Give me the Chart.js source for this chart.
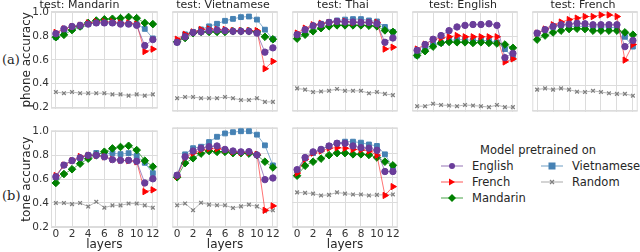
<!DOCTYPE html>
<html>
<head>
<meta charset="utf-8">
<script src="https://cdn.jsdelivr.net/npm/chart.js@4.4.1/dist/chart.umd.min.js"></script>
<style>
  html, body { margin: 0; padding: 0; background: #fff; overflow: hidden; }
  body { width: 640px; height: 252px; position: relative; font-family: "DejaVu Sans", sans-serif; color: #262626; }
  canvas { position: absolute; }
  .tag { position: absolute; left: 2px; font-family: "DejaVu Serif", "Liberation Serif", serif; font-size: 13px; line-height: 14px; }
  .leg { position: absolute; font-size: 11.5px; line-height: 14px; white-space: nowrap; }
  .leg svg { position: absolute; left: 0; top: 2px; }
  .leg span { position: absolute; left: 31px; top: 0; }
</style>
</head>
<body>
<div class="tag" style="top:53px">(a)</div>
<div class="tag" style="top:189px">(b)</div>
<div class="leg" style="left:480px; top:143px">Model pretrained on</div>
<div id="legend"></div>
<script>
// Data
const layers = [0, 1, 2, 3, 4, 5, 6, 7, 8, 9, 10, 11, 12];
const models = ['English', 'French', 'Mandarin', 'Vietnamese', 'Random'];
const xTicks = [0, 2, 4, 6, 8, 10, 12];
const yTicks = [0.2, 0.4, 0.6, 0.8, 1.0];

// phone accuracy, one row per model (same order as models)
const phoneMandarin = [
    [0.82, 0.86, 0.88, 0.89, 0.90, 0.91, 0.91, 0.91, 0.90, 0.90, 0.89, 0.72, 0.77],
    [0.83, 0.86, 0.88, 0.89, 0.91, 0.92, 0.92, 0.92, 0.91, 0.91, 0.90, 0.67, 0.69],
    [0.79, 0.81, 0.85, 0.88, 0.91, 0.93, 0.94, 0.945, 0.95, 0.96, 0.95, 0.91, 0.90],
    [0.79, 0.83, 0.86, 0.88, 0.90, 0.91, 0.91, 0.91, 0.91, 0.90, 0.90, 0.86, 0.78],
    [0.33, 0.32, 0.33, 0.32, 0.32, 0.32, 0.32, 0.31, 0.31, 0.30, 0.31, 0.30, 0.31]
];
const phoneVietnamese = [
    [0.755, 0.80, 0.835, 0.84, 0.85, 0.855, 0.85, 0.845, 0.845, 0.845, 0.83, 0.675, 0.71],
    [0.78, 0.82, 0.84, 0.86, 0.865, 0.86, 0.86, 0.85, 0.85, 0.85, 0.85, 0.54, 0.60],
    [0.76, 0.79, 0.83, 0.84, 0.84, 0.84, 0.84, 0.845, 0.845, 0.845, 0.84, 0.80, 0.78],
    [0.755, 0.82, 0.84, 0.86, 0.885, 0.906, 0.93, 0.946, 0.96, 0.965, 0.94, 0.858, 0.78],
    [0.30, 0.31, 0.31, 0.30, 0.30, 0.30, 0.31, 0.30, 0.285, 0.285, 0.30, 0.27, 0.27]
];
const phoneThai = [
    [0.817, 0.858, 0.89, 0.90, 0.917, 0.925, 0.92, 0.92, 0.917, 0.917, 0.906, 0.755, 0.79],
    [0.83, 0.87, 0.898, 0.91, 0.917, 0.925, 0.925, 0.917, 0.917, 0.917, 0.917, 0.70, 0.715],
    [0.785, 0.817, 0.845, 0.87, 0.885, 0.893, 0.893, 0.893, 0.893, 0.89, 0.885, 0.852, 0.84],
    [0.817, 0.85, 0.89, 0.906, 0.92, 0.933, 0.94, 0.944, 0.944, 0.933, 0.925, 0.88, 0.84],
    [0.38, 0.37, 0.35, 0.355, 0.36, 0.375, 0.36, 0.36, 0.36, 0.34, 0.35, 0.335, 0.325]
];
const phoneEnglish = [
    [0.69, 0.737, 0.78, 0.81, 0.85, 0.88, 0.893, 0.90, 0.90, 0.906, 0.893, 0.63, 0.665],
    [0.70, 0.74, 0.777, 0.79, 0.80, 0.81, 0.80, 0.80, 0.80, 0.80, 0.80, 0.595, 0.62],
    [0.648, 0.683, 0.72, 0.75, 0.758, 0.755, 0.755, 0.75, 0.755, 0.75, 0.745, 0.737, 0.71],
    [0.648, 0.70, 0.737, 0.75, 0.77, 0.777, 0.777, 0.77, 0.77, 0.768, 0.755, 0.70, 0.63],
    [0.235, 0.235, 0.255, 0.245, 0.24, 0.235, 0.245, 0.24, 0.235, 0.227, 0.245, 0.227, 0.227]
];
const phoneFrench = [
    [0.83, 0.858, 0.885, 0.898, 0.903, 0.91, 0.906, 0.898, 0.898, 0.898, 0.898, 0.72, 0.77],
    [0.83, 0.863, 0.898, 0.92, 0.94, 0.952, 0.965, 0.965, 0.978, 0.978, 0.965, 0.61, 0.737],
    [0.777, 0.81, 0.835, 0.85, 0.863, 0.866, 0.863, 0.85, 0.85, 0.85, 0.85, 0.836, 0.817],
    [0.825, 0.858, 0.88, 0.893, 0.885, 0.885, 0.885, 0.88, 0.88, 0.88, 0.87, 0.80, 0.72],
    [0.37, 0.38, 0.37, 0.38, 0.37, 0.353, 0.35, 0.36, 0.35, 0.34, 0.335, 0.335, 0.32]
];

// tone accuracy
const toneMandarin = [
    [0.62, 0.718, 0.755, 0.78, 0.80, 0.80, 0.787, 0.764, 0.758, 0.758, 0.75, 0.568, 0.603],
    [0.63, 0.718, 0.755, 0.79, 0.80, 0.80, 0.787, 0.766, 0.758, 0.755, 0.745, 0.495, 0.51],
    [0.568, 0.643, 0.683, 0.73, 0.772, 0.80, 0.83, 0.858, 0.87, 0.88, 0.844, 0.755, 0.705],
    [0.615, 0.718, 0.755, 0.775, 0.80, 0.82, 0.81, 0.818, 0.81, 0.818, 0.795, 0.737, 0.65],
    [0.40, 0.40, 0.39, 0.40, 0.37, 0.41, 0.36, 0.38, 0.38, 0.395, 0.395, 0.38, 0.36]
];
const toneVietnamese = [
    [0.62, 0.77, 0.817, 0.84, 0.852, 0.858, 0.83, 0.817, 0.81, 0.812, 0.785, 0.584, 0.597],
    [0.61, 0.764, 0.80, 0.826, 0.836, 0.836, 0.826, 0.81, 0.805, 0.805, 0.79, 0.334, 0.37],
    [0.603, 0.718, 0.758, 0.796, 0.817, 0.81, 0.81, 0.80, 0.80, 0.796, 0.783, 0.73, 0.683],
    [0.62, 0.79, 0.84, 0.852, 0.89, 0.933, 0.96, 0.97, 0.978, 0.978, 0.95, 0.863, 0.70],
    [0.375, 0.39, 0.335, 0.396, 0.38, 0.375, 0.375, 0.353, 0.366, 0.38, 0.366, 0.326, 0.334]
];
const toneThai = [
    [0.665, 0.764, 0.81, 0.83, 0.858, 0.88, 0.88, 0.858, 0.844, 0.84, 0.823, 0.65, 0.65],
    [0.637, 0.75, 0.80, 0.817, 0.84, 0.844, 0.84, 0.83, 0.826, 0.817, 0.783, 0.455, 0.527],
    [0.616, 0.697, 0.73, 0.755, 0.783, 0.80, 0.80, 0.79, 0.79, 0.785, 0.764, 0.73, 0.70],
    [0.656, 0.756, 0.80, 0.83, 0.858, 0.88, 0.893, 0.893, 0.885, 0.87, 0.858, 0.79, 0.683],
    [0.48, 0.476, 0.47, 0.455, 0.46, 0.48, 0.47, 0.463, 0.463, 0.455, 0.46, 0.46, 0.463]
];

// Styles
const colors = ['#6a3d9a', '#ff0000', '#008000', '#4682b4', '#808080'];
const lineColors = ['rgba(106,61,154,0.6)', 'rgba(255,0,0,0.55)', 'rgba(0,128,0,0.6)', 'rgba(70,130,180,0.65)', 'rgba(128,128,128,0.55)'];
const markers = ['circle', 'triangle', 'rectRot', 'rect', 'crossRot'];
const radii = [3.2, 3.6, 3.8, 3.4, 2.6];
const gridColor = '#dcdcdc';
const textColor = '#333';

const plotLefts = [51, 171, 291, 411, 531];
const plotW = 108;

const panels = [
    { values: phoneMandarin, test: 'Mandarin', row: 0, col: 0, ylabel: 'phone accuracy' },
    { values: phoneVietnamese, test: 'Vietnamese', row: 0, col: 1 },
    { values: phoneThai, test: 'Thai', row: 0, col: 2 },
    { values: phoneEnglish, test: 'English', row: 0, col: 3 },
    { values: phoneFrench, test: 'French', row: 0, col: 4 },
    { values: toneMandarin, row: 1, col: 0, ylabel: 'tone accuracy' },
    { values: toneVietnamese, row: 1, col: 1 },
    { values: toneThai, row: 1, col: 2 }
];

// light frame around each plot area, like matplotlib spines
const framePlugin = {
    id: 'frame',
    beforeDatasetsDraw(chart) {
        const { ctx, chartArea: a } = chart;
        ctx.save();
        ctx.strokeStyle = gridColor;
        ctx.lineWidth = 1;
        ctx.strokeRect(a.left + 0.5, a.top + 0.5, a.right - a.left - 1, a.bottom - a.top - 1);
        ctx.restore();
    }
};

function makeChart(p) {
    const first = p.col === 0;
    const bottom = p.row === 1;
    const axisW = first ? 51 : 4;
    const canvas = document.createElement('canvas');
    canvas.width = axisW + plotW + 4;
    canvas.height = bottom ? 130 : 117;
    canvas.style.left = (plotLefts[p.col] - axisW) + 'px';
    canvas.style.top = (bottom ? 122 : 0) + 'px';
    document.body.appendChild(canvas);

    new Chart(canvas, {
        type: 'line',
        data: {
            datasets: models.map((m, i) => ({
                label: m,
                data: layers.map((x, j) => ({ x: x, y: p.values[i][j] })),
                borderColor: lineColors[i],
                borderWidth: 1,
                pointStyle: markers[i],
                pointRadius: radii[i],
                pointRotation: i === 1 ? 90 : 0,
                pointBackgroundColor: colors[i],
                pointBorderColor: colors[i],
                pointBorderWidth: i === 4 ? 1.3 : 1,
                tension: 0
            }))
        },
        options: {
            responsive: false,
            animation: false,
            devicePixelRatio: 1,
            layout: { padding: { top: bottom ? 4 : 0, right: 4, left: 0, bottom: 0 } },
            plugins: {
                legend: { display: false },
                tooltip: { enabled: false },
                title: {
                    display: !bottom,
                    text: 'test: ' + p.test,
                    color: '#262626',
                    font: { family: 'DejaVu Sans', size: 11, weight: 'normal', lineHeight: '10px' },
                    padding: { top: 0, bottom: 1 }
                }
            },
            scales: {
                x: {
                    type: 'linear',
                    min: -0.6,
                    max: 12.6,
                    afterBuildTicks: s => { s.ticks = xTicks.map(v => ({ value: v })); },
                    afterFit: s => { s.height = bottom ? 24 : 4; },
                    ticks: {
                        display: bottom,
                        padding: 0,
                        color: textColor,
                        font: { family: 'DejaVu Sans', size: 10.5 },
                        maxRotation: 0,
                        callback: v => String(v)
                    },
                    grid: { color: gridColor, drawTicks: false },
                    border: { display: false },
                    title: {
                        display: bottom,
                        text: 'layers',
                        color: '#262626',
                        font: { family: 'DejaVu Sans', size: 12 },
                        padding: 0
                    }
                },
                y: {
                    min: 0.19,
                    max: 1.01,
                    afterBuildTicks: s => { s.ticks = yTicks.map(v => ({ value: v })); },
                    afterFit: s => { s.width = axisW; },
                    ticks: {
                        display: first,
                        padding: 2,
                        color: textColor,
                        font: { family: 'DejaVu Sans', size: 10.5 },
                        callback: v => v.toFixed(1)
                    },
                    grid: { color: gridColor, drawTicks: false },
                    border: { display: false },
                    title: {
                        display: first,
                        text: p.ylabel,
                        color: '#262626',
                        font: { family: 'DejaVu Sans', size: 12 },
                        padding: { top: 20, bottom: 0 }
                    }
                }
            }
        },
        plugins: [framePlugin]
    });
}

panels.forEach(makeChart);

// Legend: line + marker swatches, two columns
function markerSvg(i) {
    const c = colors[i];
    let m = '';
    if (i === 0) m = `<circle cx="11" cy="5" r="3" fill="${c}"/>`;
    if (i === 1) m = `<polygon points="8,1.5 14,5 8,8.5" fill="${c}"/>`;
    if (i === 2) m = `<polygon points="11,1 15,5 11,9 7,5" fill="${c}"/>`;
    if (i === 3) m = `<rect x="7.5" y="1.5" width="7" height="7" fill="${c}"/>`;
    if (i === 4) m = `<path d="M9,3 L13,7 M13,3 L9,7" stroke="${c}" stroke-width="1.3"/>`;
    return `<svg width="22" height="10"><line x1="0" y1="5" x2="22" y2="5" stroke="${lineColors[i]}" stroke-width="1.5" opacity="0.8"/>${m}</svg>`;
}

const legendPos = [[441, 159], [441, 175], [441, 191], [541, 159], [541, 175]];
const legendBox = document.getElementById('legend');
models.forEach((m, i) => {
    const d = document.createElement('div');
    d.className = 'leg';
    d.style.left = legendPos[i][0] + 'px';
    d.style.top = legendPos[i][1] + 'px';
    d.innerHTML = markerSvg(i) + '<span>' + m + '</span>';
    legendBox.appendChild(d);
});
</script>
</body>
</html>
